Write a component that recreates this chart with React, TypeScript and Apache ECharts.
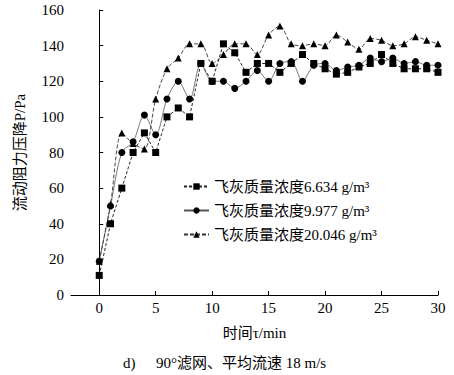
import React, { useEffect, useRef } from "react";
import * as echarts from "echarts";

const times = [0,1,2,3,4,5,6,7,8,9,10,11,12,13,14,15,16,17,18,19,20,21,22,23,24,25,26,27,28,29,30];
const seriesNames = [
  "飞灰质量浓度6.634 g/m³",
  "飞灰质量浓度9.977 g/m³",
  "飞灰质量浓度20.046 g/m³",
];
const squareVals = [11,40,60,80,91,80,100,105,100,130,120,141,136,125,130,130,125,130,135,130,127,124,125,128,130,135,130,127,127,127,125];
const circleVals = [19,50,80,86,101,90,110,120,110,130,120,120,116,120,126,120,130,131,120,129,130,126,128,129,133,131,133,130,131,129,129];
const triangleVals = [19,51,91,85,82,110,127,133,141,141,130,135,141,141,135,146,151,141,140,141,140,146,142,138,144,143,140,141,145,143,141];
const xTicks = [0,5,10,15,20,25,30];
const yTicks = [0,20,40,60,80,100,120,140,160];

const FONT = "Liberation Serif, Noto Sans CJK SC, serif";

export default function App() {
  const ref = useRef<HTMLDivElement>(null);
  useEffect(() => {
    document.body.style.margin = "0";
    if (!ref.current) return;
    const chart = echarts.init(ref.current, null, { renderer: "svg" });
    const pair = (vals: number[]) => times.map((t, i) => [t, vals[i]]);
    chart.setOption({
      animation: false,
      backgroundColor: "#fff",
      textStyle: { fontFamily: FONT, color: "#000" },
      grid: { left: 71, right: 16, top: 10, bottom: 80, containLabel: false },
      legend: {
        orient: "vertical",
        left: 183,
        top: 179,
        padding: 0,
        itemWidth: 25,
        itemHeight: 8,
        itemGap: 9,
        textStyle: { fontFamily: FONT, fontSize: 15, color: "#000" },
        data: seriesNames,
      },
      xAxis: {
        type: "value",
        min: -2.5,
        max: 30,
        name: "时间τ/min",
        nameLocation: "middle",
        nameGap: 30,
        nameTextStyle: { fontFamily: FONT, fontSize: 15, color: "#000" },
        splitLine: { show: false },
        axisLine: { lineStyle: { color: "#000", width: 1 } },
        axisTick: { inside: true, length: 4, customValues: xTicks, lineStyle: { color: "#000" } },
        axisLabel: { customValues: xTicks, fontFamily: FONT, fontSize: 15, color: "#000", margin: 5 },
      },
      yAxis: {
        type: "value",
        min: 0,
        max: 160,
        interval: 20,
        name: "流动阻力压降P/Pa",
        nameLocation: "middle",
        nameGap: 44,
        nameTextStyle: { fontFamily: FONT, fontSize: 15, color: "#000" },
        splitLine: { show: false },
        axisLine: { show: true, lineStyle: { color: "#000", width: 1 } },
        axisTick: { show: true, inside: true, length: 4, lineStyle: { color: "#000" } },
        axisLabel: { customValues: yTicks, fontFamily: FONT, fontSize: 15, color: "#000", margin: 7 },
      },
      series: [
        {
          name: seriesNames[0],
          type: "line",
          data: pair(squareVals),
          symbol: "rect",
          symbolSize: 7,
          itemStyle: { color: "#000" },
          lineStyle: { color: "#222", width: 1, type: [3, 2] },
        },
        {
          name: seriesNames[1],
          type: "line",
          data: pair(circleVals),
          symbol: "circle",
          symbolSize: 7,
          smooth: 0.3,
          itemStyle: { color: "#000" },
          lineStyle: { color: "#555", width: 0.8 },
        },
        {
          name: seriesNames[2],
          type: "line",
          data: pair(triangleVals),
          symbol: "triangle",
          symbolSize: 7,
          smooth: 0.3,
          itemStyle: { color: "#000" },
          lineStyle: { color: "#333", width: 0.9, type: [4, 2] },
        },
      ],
      graphic: [
        {
          type: "text",
          x: 123,
          y: 363,
          style: { text: "d)", font: `15px ${FONT}`, fill: "#000", verticalAlign: "middle" },
        },
        {
          type: "text",
          x: 156,
          y: 363,
          style: { text: "90°滤网、平均流速 18 m/s", font: `15px ${FONT}`, fill: "#000", verticalAlign: "middle" },
        },
      ],
    });
    return () => chart.dispose();
  }, []);
  return <div ref={ref} style={{ width: 454, height: 375 }} />;
}
